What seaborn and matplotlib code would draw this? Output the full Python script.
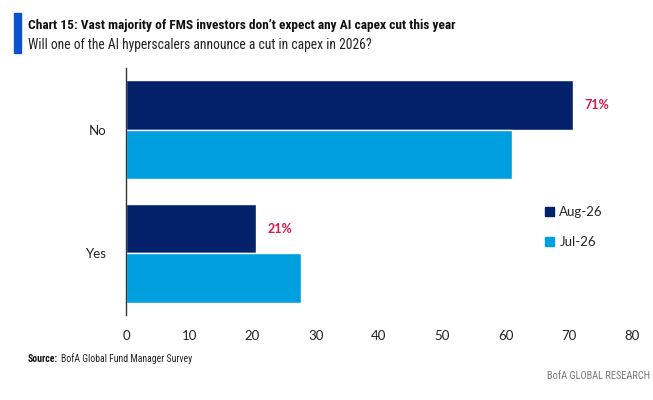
import matplotlib
matplotlib.use("Agg")
import matplotlib.pyplot as plt
import matplotlib.patches as mpatches
from matplotlib import font_manager
import seaborn as sns
import pandas as pd

categories = ["No", "Yes"]
aug_values = [70.7, 20.6]
jul_values = [61.0, 27.7]
series_names = ["Aug-26", "Jul-26"]
labels = ["71%", "21%"]
xticks = [0, 10, 20, 30, 40, 50, 60, 70, 80]

navy = "#03216B"
light = "#009FE0"
red = "#D6184A"

df = pd.DataFrame({
    "answer": categories * 2,
    "value": aug_values + jul_values,
    "month": [series_names[0]] * 2 + [series_names[1]] * 2,
})

# pick a narrow font if one is installed
names = {f.name for f in font_manager.fontManager.ttflist}
narrow = "Liberation Sans"
for cand in ["Roboto Condensed", "Liberation Sans Narrow", "DejaVu Sans Condensed"]:
    if cand in names:
        narrow = cand
        break
body = "Lato" if "Lato" in names else "Liberation Sans"

sns.set_style("white")
plt.rcParams["font.family"] = [narrow, "DejaVu Sans"]

fig = plt.figure(figsize=(6.53, 4.0), dpi=100)
ax = fig.add_axes([126 / 653, 1 - 315 / 400, 506 / 653, 247 / 400])

sns.barplot(data=df, y="answer", x="value", hue="month", order=categories,
            hue_order=series_names, palette=[navy, light], orient="h",
            width=0.8, gap=0, saturation=1, ax=ax, legend=False)

ax.set_xlim(0, 80)
ax.set_ylim(1.5, -0.5)
ax.set_xticks(xticks)
ax.set_xlabel("")
ax.set_ylabel("")
for s in ["top", "right", "bottom"]:
    ax.spines[s].set_visible(False)
ax.spines["left"].set_color("#333333")
ax.spines["left"].set_linewidth(1.0)
ax.tick_params(axis="x", length=0, labelsize=9.5, pad=11, colors="#222222")
ax.tick_params(axis="y", length=0, labelsize=9.5, pad=14, colors="#222222")
for t in ax.get_xticklabels() + ax.get_yticklabels():
    t.set_family([body, "DejaVu Sans"])

for i, (v, lab) in enumerate(zip(aug_values, labels)):
    ax.text(v + 1.8, i - 0.2, lab, color=red, fontsize=9, fontweight="bold",
            va="center", ha="left", family=[body, "DejaVu Sans"])

handles = [mpatches.Patch(color=navy, label=series_names[0]),
           mpatches.Patch(color=light, label=series_names[1])]
fig.legend(handles=handles, loc="center left", bbox_to_anchor=(533 / 653, 1 - 227 / 400),
           frameon=False, handlelength=0.7, handleheight=0.7,
           handletextpad=0.4, labelspacing=1.4,
           prop={"family": [body, "DejaVu Sans"], "size": 9.5})

fig.patches.append(mpatches.Rectangle((14 / 653, 1 - 53 / 400), 7 / 653, 40 / 400,
                                      transform=fig.transFigure, color="#0A52CC"))
fig.text(28 / 653, 1 - 26 / 400,
         "Chart 15: Vast majority of FMS investors don\u2019t expect any AI capex cut this year",
         fontsize=9.6, fontweight="bold", va="center", color="#111111")
fig.text(28 / 653, 1 - 45 / 400,
         "Will one of the AI hyperscalers announce a cut in capex in 2026?",
         fontsize=9.8, va="center", color="#222222")
src = fig.text(28 / 653, 1 - 359 / 400, "Source:", fontsize=7, fontweight="bold",
               va="center", color="#111111")
r = fig.canvas.get_renderer()
bb = src.get_window_extent(r)
fig.text((bb.x1 + 3) / fig.bbox.width, 1 - 359 / 400, "BofA Global Fund Manager Survey",
         fontsize=7, va="center", color="#222222")
fig.text(650 / 653, 1 - 376 / 400, "BofA GLOBAL RESEARCH", fontsize=7.5,
         va="center", ha="right", color="#777777")

fig.savefig("out.png", dpi=100)
